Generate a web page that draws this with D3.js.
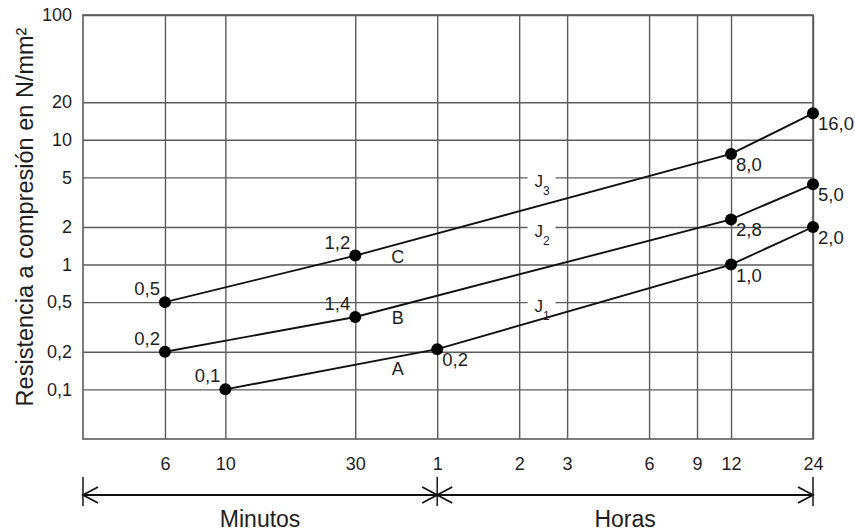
<!DOCTYPE html>
<html><head><meta charset="utf-8">
<script src="https://cdn.jsdelivr.net/npm/d3@7"></script>
<style>
body{margin:0;background:#fff}
text{font-family:"Liberation Sans",Arial,Helvetica,sans-serif;fill:#1e1e1e}
</style>
</head><body><svg id="c" width="855" height="531"></svg>
<script>
// ---- data ----
const xTickMinutes = [6, 10, 30, 60, 120, 180, 360, 540, 720, 1440];
const xTickLabels  = ["6", "10", "30", "1", "2", "3", "6", "9", "12", "24"];
const yTickValues  = [100, 20, 10, 5, 2, 1, 0.5, 0.2, 0.1];
const yTickLabels  = ["100", "20", "10", "5", "2", "1", "0,5", "0,2", "0,1"];
const seriesNames   = ["C", "B", "A"];
const seriesMinutes = [[6, 30, 720, 1440], [6, 30, 720, 1440], [10, 60, 720, 1440]];
const seriesValues  = [[0.5, 1.18, 7.7, 16.3], [0.2, 0.38, 2.3, 4.4], [0.1, 0.21, 1.0, 2.0]];
const pointLabels   = [["0,5", "1,2", "8,0", "16,0"], ["0,2", "1,4", "2,8", "5,0"], ["0,1", "0,2", "1,0", "2,0"]];
const jSubscripts = ["3", "2", "1"];
const jValues     = [5, 2, 0.5];
const spanLabels  = ["Minutos", "Horas"];
const spanBounds  = [[3, 60], [60, 1440]];
const yTitle = "Resistencia a compresión en N/mm²";

// ---- layout ----
const pL = 83, pR = 813, pT = 15, pB = 439;
const x = d3.scaleLog().domain([3, 1440]).range([pL, pR]);
const y = d3.scaleLog().domain([0.04, 100]).range([pB, pT]);
const gridColor = "#5c5c5c";

const svg = d3.select("#c");

// grid via axes
const gy = svg.append("g").attr("transform", `translate(${pL},0)`)
  .call(d3.axisLeft(y).tickValues(yTickValues).tickFormat((d, i) => yTickLabels[i])
        .tickSize(-(pR - pL)).tickPadding(11));
gy.select(".domain").remove();
gy.selectAll(".tick line").attr("stroke", gridColor).attr("stroke-width", 1.4);
gy.selectAll(".tick text").attr("font-size", 18).attr("fill", "#1e1e1e")
  .attr("font-family", '"Liberation Sans",Arial,sans-serif');

const gx = svg.append("g").attr("transform", `translate(0,${pB})`)
  .call(d3.axisBottom(x).tickValues(xTickMinutes).tickFormat((d, i) => xTickLabels[i])
        .tickSize(-(pB - pT)).tickPadding(18));
gx.select(".domain").remove();
gx.selectAll(".tick line").attr("stroke", gridColor).attr("stroke-width", 1.4);
gx.selectAll(".tick text").attr("font-size", 18).attr("fill", "#1e1e1e")
  .attr("font-family", '"Liberation Sans",Arial,sans-serif');

// frame
svg.append("rect").attr("x", pL).attr("y", pT)
  .attr("width", pR - pL).attr("height", pB - pT)
  .attr("fill", "none").attr("stroke", gridColor).attr("stroke-width", 1.6);

// J labels
const jx = x(145);
jValues.forEach((v, i) => {
  const gyv = y(v);
  svg.append("rect").attr("x", jx - 14).attr("y", gyv - 5).attr("width", 28).attr("height", 10).attr("fill", "#fff");
  const t = svg.append("text").attr("x", jx - 7).attr("y", gyv + 10).attr("font-size", 17).text("J");
  t.append("tspan").attr("font-size", 12).attr("dy", 8).text(jSubscripts[i]);
});

// series
const line = d3.line().x(d => x(d.m)).y(d => y(d.v));
function valueAt(ms, vs, m) {
  for (let i = 0; i < ms.length - 1; i++) {
    if (m >= ms[i] && m <= ms[i + 1]) {
      const t = (Math.log(m) - Math.log(ms[i])) / (Math.log(ms[i + 1]) - Math.log(ms[i]));
      return Math.exp(Math.log(vs[i]) + t * (Math.log(vs[i + 1]) - Math.log(vs[i])));
    }
  }
  return vs[0];
}
seriesNames.forEach((name, s) => {
  const pts = seriesMinutes[s].map((m, i) => ({m, v: seriesValues[s][i], lab: pointLabels[s][i]}));
  svg.append("path").datum(pts).attr("d", line)
    .attr("fill", "none").attr("stroke", "#111").attr("stroke-width", 1.9);
  svg.selectAll(null).data(pts).enter().append("circle")
    .attr("cx", d => x(d.m)).attr("cy", d => y(d.v)).attr("r", 6).attr("fill", "#000");
  svg.selectAll(null).data(pts).enter().append("text")
    .attr("font-size", 18.5)
    .attr("text-anchor", d => d.m <= 30 ? "end" : "start")
    .attr("x", d => d.m <= 30 ? x(d.m) - 5 : x(d.m) + 5)
    .attr("y", d => d.m <= 30 ? y(d.v) - 7 : y(d.v) + 17)
    .text(d => d.lab);
  const lm = 43;
  svg.append("text").attr("text-anchor", "middle").attr("font-size", 18)
    .attr("x", x(lm)).attr("y", y(valueAt(seriesMinutes[s], seriesValues[s], lm)) + 18.5)
    .text(name);
});

// span arrows
const ay = pB + 56;
const tickX = [spanBounds[0][0], spanBounds[0][1], spanBounds[1][1]];
tickX.forEach(m => {
  svg.append("line").attr("x1", x(m)).attr("x2", x(m)).attr("y1", ay - 18).attr("y2", ay + 11)
    .attr("stroke", "#222").attr("stroke-width", 1.6);
});
spanLabels.forEach((lab, i) => {
  const x0 = x(spanBounds[i][0]), x1 = x(spanBounds[i][1]);
  svg.append("line").attr("x1", x0).attr("x2", x1).attr("y1", ay).attr("y2", ay)
    .attr("stroke", "#111").attr("stroke-width", 1.8);
  svg.append("path").attr("d", `M${x0 + 15},${ay - 8}L${x0},${ay}L${x0 + 15},${ay + 8}`)
    .attr("fill", "none").attr("stroke", "#111").attr("stroke-width", 1.8);
  svg.append("path").attr("d", `M${x1 - 15},${ay - 8}L${x1},${ay}L${x1 - 15},${ay + 8}`)
    .attr("fill", "none").attr("stroke", "#111").attr("stroke-width", 1.8);
  svg.append("text").attr("text-anchor", "middle").attr("font-size", 23)
    .attr("x", (x0 + x1) / 2).attr("y", ay + 32).text(lab);
});

// y title
svg.append("text").attr("transform", "translate(33,217) rotate(-90)")
  .attr("text-anchor", "middle").attr("font-size", 23.5).text(yTitle);
</script>
</body></html>
